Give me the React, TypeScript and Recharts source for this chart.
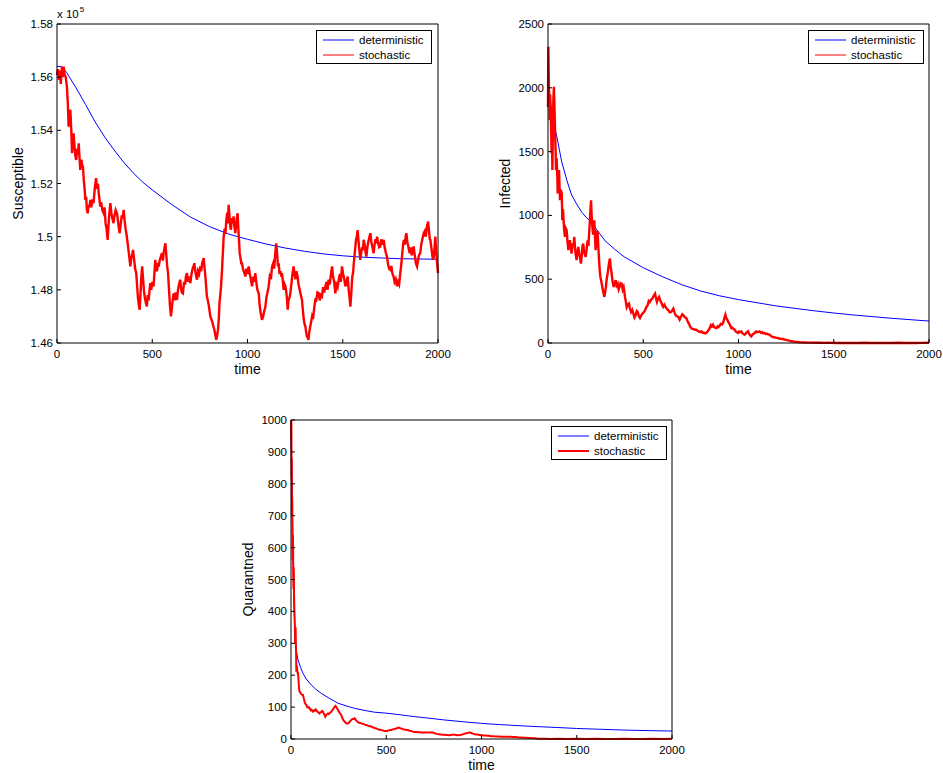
import React from 'react';
import { LineChart, Line, XAxis, YAxis, Legend, Label } from 'recharts';

type Pt = [number, number];

const timeTicks = [0, 500, 1000, 1500, 2000];
const susceptibleTicks = [1.46, 1.48, 1.5, 1.52, 1.54, 1.56, 1.58];
const infectedTicks = [0, 500, 1000, 1500, 2000, 2500];
const quarantinedTicks = [0, 100, 200, 300, 400, 500, 600, 700, 800, 900, 1000];
const seriesNames = ['deterministic', 'stochastic'];

// susceptible values are in units of 10^5
const susceptibleDet: Pt[] = [
  [0, 1.564], [25, 1.564], [50, 1.5618], [100, 1.556], [150, 1.5497], [200, 1.5432], [250, 1.5375],
  [300, 1.5326], [350, 1.528], [400, 1.524], [450, 1.5205], [500, 1.5176], [600, 1.5122],
  [700, 1.5074], [800, 1.5038], [900, 1.501], [1000, 1.499], [1100, 1.4972], [1200, 1.4957],
  [1300, 1.4945], [1400, 1.4935], [1500, 1.4928], [1600, 1.4923], [1700, 1.492], [1800, 1.4917],
  [1900, 1.4916], [2000, 1.4915],
];

const susceptibleSto: Pt[] = [
  [0, 1.5608], [5, 1.563], [10, 1.559], [15, 1.5625], [20, 1.5575], [26, 1.564], [30, 1.56], [35, 1.564],
  [40, 1.561], [46, 1.56], [52, 1.5564], [57, 1.55], [61, 1.5414], [66, 1.546], [70, 1.5477], [75, 1.54],
  [79, 1.5314], [83, 1.536], [87, 1.5389], [93, 1.533], [97, 1.53], [101, 1.5289], [106, 1.533],
  [110, 1.531], [114, 1.5351], [118, 1.53], [122, 1.5251], [128, 1.529], [132, 1.527], [136, 1.5264],
  [141, 1.521], [145, 1.518], [149, 1.5138], [153, 1.515], [157, 1.51], [161, 1.5088], [166, 1.512],
  [170, 1.511], [175, 1.5138], [180, 1.511], [186, 1.514], [192, 1.5126], [198, 1.518], [205, 1.522],
  [210, 1.518], [215, 1.52], [219, 1.5163], [223, 1.514], [227, 1.5113], [232, 1.513], [238, 1.51],
  [245, 1.5088], [250, 1.511], [255, 1.505], [260, 1.503], [266, 1.4988], [270, 1.504], [275, 1.509],
  [280, 1.5126], [285, 1.509], [290, 1.507], [297, 1.5051], [302, 1.508], [308, 1.51], [315, 1.5088],
  [320, 1.506], [325, 1.503], [329, 1.5013], [335, 1.505], [340, 1.508], [345, 1.507], [350, 1.5101],
  [355, 1.506], [360, 1.503], [364, 1.5013], [370, 1.498], [375, 1.495], [380, 1.492], [385, 1.4888],
  [390, 1.492], [395, 1.4935], [399, 1.495], [404, 1.492], [410, 1.488], [416, 1.4863], [420, 1.482],
  [425, 1.477], [430, 1.474], [434, 1.4725], [438, 1.478], [442, 1.484], [447, 1.4888], [451, 1.485],
  [456, 1.48], [461, 1.477], [467, 1.475], [472, 1.4738], [476, 1.478], [481, 1.476], [486, 1.48],
  [490, 1.4825], [495, 1.48], [500, 1.483], [507, 1.4813], [511, 1.486], [516, 1.4913], [520, 1.488],
  [525, 1.487], [530, 1.49], [534, 1.4888], [539, 1.491], [545, 1.4925], [551, 1.4938], [556, 1.491],
  [560, 1.494], [565, 1.496], [569, 1.4975], [574, 1.493], [578, 1.489], [583, 1.4863], [588, 1.48],
  [593, 1.474], [598, 1.47], [603, 1.473], [607, 1.476], [612, 1.4787], [617, 1.476], [622, 1.479],
  [626, 1.477], [630, 1.4762], [635, 1.48], [640, 1.482], [647, 1.4838], [652, 1.48], [656, 1.479],
  [661, 1.4787], [667, 1.483], [672, 1.482], [677, 1.485], [682, 1.4863], [687, 1.483], [693, 1.485],
  [700, 1.4825], [706, 1.486], [712, 1.488], [717, 1.489], [721, 1.49], [726, 1.487], [731, 1.485],
  [735, 1.4838], [740, 1.487], [746, 1.486], [752, 1.4888], [757, 1.487], [762, 1.49], [766, 1.491],
  [770, 1.4919], [775, 1.488], [780, 1.484], [787, 1.4775], [792, 1.476], [797, 1.474], [801, 1.472],
  [805, 1.47], [810, 1.469], [815, 1.468], [820, 1.4665], [826, 1.465], [831, 1.463], [836, 1.4612],
  [840, 1.4625], [845, 1.465], [849, 1.4687], [853, 1.475], [857, 1.478], [861, 1.4813], [866, 1.487],
  [870, 1.493], [875, 1.5], [880, 1.503], [884, 1.501], [889, 1.5063], [894, 1.509], [897, 1.505],
  [901, 1.512], [905, 1.508], [909, 1.504], [913, 1.5026], [918, 1.507], [922, 1.505], [927, 1.5076],
  [931, 1.504], [936, 1.5013], [940, 1.504], [944, 1.507], [948, 1.5088], [952, 1.503], [956, 1.498],
  [959, 1.4938], [963, 1.492], [967, 1.49], [971, 1.49], [976, 1.488], [980, 1.487], [985, 1.486],
  [989, 1.485], [994, 1.488], [1000, 1.486], [1006, 1.4888], [1012, 1.486], [1018, 1.484], [1024, 1.4813],
  [1030, 1.485], [1035, 1.483], [1041, 1.4863], [1046, 1.483], [1052, 1.48], [1059, 1.4787], [1064, 1.474],
  [1070, 1.471], [1076, 1.4687], [1082, 1.47], [1088, 1.472], [1094, 1.4737], [1099, 1.477], [1105, 1.479],
  [1111, 1.4813], [1117, 1.485], [1123, 1.484], [1129, 1.4888], [1135, 1.49], [1140, 1.488], [1146, 1.494],
  [1151, 1.4975], [1156, 1.493], [1160, 1.4888], [1164, 1.49], [1168, 1.486], [1173, 1.487], [1177, 1.485],
  [1181, 1.4863], [1186, 1.483], [1190, 1.48], [1195, 1.482], [1199, 1.4813], [1204, 1.479], [1208, 1.476],
  [1211, 1.4725], [1215, 1.476], [1220, 1.477], [1225, 1.4787], [1230, 1.482], [1236, 1.486], [1242, 1.4888],
  [1247, 1.486], [1252, 1.484], [1257, 1.487], [1263, 1.485], [1268, 1.482], [1274, 1.48], [1280, 1.478],
  [1286, 1.4762], [1291, 1.472], [1295, 1.469], [1300, 1.467], [1304, 1.4662], [1308, 1.464], [1312, 1.4625],
  [1316, 1.462], [1320, 1.4612], [1324, 1.464], [1329, 1.466], [1334, 1.468], [1339, 1.47], [1344, 1.469],
  [1350, 1.473], [1356, 1.4762], [1361, 1.476], [1367, 1.479], [1374, 1.4787], [1379, 1.476], [1385, 1.478],
  [1391, 1.4775], [1397, 1.481], [1403, 1.479], [1409, 1.4813], [1415, 1.483], [1420, 1.48], [1426, 1.4838],
  [1432, 1.482], [1438, 1.486], [1444, 1.4888], [1449, 1.485], [1455, 1.483], [1461, 1.4787], [1467, 1.482],
  [1473, 1.481], [1479, 1.4838], [1485, 1.486], [1490, 1.483], [1496, 1.4888], [1502, 1.486], [1508, 1.484],
  [1514, 1.4813], [1520, 1.483], [1526, 1.485], [1531, 1.48], [1536, 1.477], [1540, 1.4737], [1545, 1.479],
  [1550, 1.485], [1554, 1.4863], [1558, 1.49], [1562, 1.493], [1566, 1.4962], [1570, 1.499], [1574, 1.5],
  [1578, 1.5025], [1582, 1.499], [1587, 1.495], [1592, 1.4913], [1597, 1.494], [1602, 1.496], [1606, 1.495],
  [1610, 1.4988], [1615, 1.497], [1620, 1.494], [1624, 1.4925], [1629, 1.496], [1634, 1.498], [1640, 1.5],
  [1645, 1.5013], [1650, 1.498], [1656, 1.496], [1662, 1.4938], [1667, 1.497], [1672, 1.499], [1677, 1.4975],
  [1680, 1.5], [1685, 1.498], [1691, 1.496], [1697, 1.4963], [1702, 1.499], [1708, 1.497], [1715, 1.4988],
  [1720, 1.496], [1726, 1.494], [1732, 1.4925], [1737, 1.49], [1743, 1.488], [1750, 1.4875], [1755, 1.489],
  [1761, 1.486], [1767, 1.485], [1772, 1.483], [1778, 1.484], [1785, 1.4813], [1790, 1.483], [1796, 1.482],
  [1802, 1.4863], [1808, 1.49], [1814, 1.495], [1820, 1.4988], [1826, 1.497], [1830, 1.5], [1834, 1.5013],
  [1839, 1.498], [1845, 1.496], [1851, 1.4938], [1857, 1.496], [1862, 1.493], [1867, 1.495], [1872, 1.4963],
  [1878, 1.493], [1884, 1.49], [1890, 1.4888], [1895, 1.491], [1900, 1.493], [1907, 1.4938], [1912, 1.497],
  [1918, 1.499], [1925, 1.5013], [1930, 1.502], [1936, 1.5], [1942, 1.504], [1948, 1.5057], [1953, 1.502],
  [1957, 1.499], [1960, 1.4988], [1965, 1.496], [1970, 1.493], [1974, 1.4913], [1978, 1.4925], [1982, 1.496],
  [1986, 1.5], [1990, 1.495], [1995, 1.49], [2000, 1.4863],
];

const infectedDet: Pt[] = [
  [0, 1958], [10, 1890], [20, 1830], [37, 1680], [50, 1590], [72, 1420], [100, 1270], [124, 1160],
  [150, 1090], [177, 1025], [200, 985], [220, 960], [250, 900], [300, 800], [350, 735], [400, 675],
  [500, 590], [600, 520], [700, 458], [800, 408], [900, 370], [1000, 340], [1200, 290], [1400, 252],
  [1500, 235], [1600, 220], [1800, 194], [2000, 172],
];

const infectedSto: Pt[] = [
  [0, 1850], [2, 2322], [4, 2100], [5, 2008], [7, 1900], [9, 1747], [11, 1950], [14, 1851], [16, 1700],
  [19, 1485], [21, 1600], [23, 1355], [26, 1700], [28, 1900], [31, 2008], [34, 1850], [37, 1668], [40, 1500],
  [42, 1355], [45, 1450], [47, 1381], [49, 1300], [51, 1171], [54, 1300], [58, 1355], [60, 1250], [63, 1119],
  [67, 1200], [72, 1171], [74, 1050], [75, 962], [78, 1050], [80, 1015], [84, 900], [89, 832], [93, 900],
  [98, 884], [102, 800], [107, 727], [111, 780], [115, 805], [120, 750], [124, 701], [130, 780], [134, 760],
  [138, 832], [143, 720], [147, 680], [150, 649], [155, 720], [159, 753], [164, 700], [169, 660], [173, 622],
  [178, 700], [181, 760], [185, 779], [189, 720], [194, 690], [198, 675], [203, 740], [208, 805], [212, 760],
  [216, 860], [220, 962], [223, 1050], [226, 1119], [229, 1000], [233, 910], [237, 850], [240, 930],
  [243, 962], [246, 850], [250, 727], [254, 800], [258, 880], [261, 858], [264, 760], [268, 649], [272, 560],
  [275, 518], [280, 480], [285, 439], [290, 400], [296, 361], [300, 400], [304, 439], [308, 500], [313, 544],
  [318, 600], [322, 640], [325, 662], [329, 600], [334, 544], [339, 480], [345, 439], [350, 470], [355, 492],
  [360, 450], [366, 465], [371, 420], [376, 439], [381, 470], [387, 465], [392, 420], [397, 439], [401, 400],
  [404, 361], [408, 330], [413, 282], [418, 300], [425, 309], [430, 270], [436, 243], [442, 260], [448, 230],
  [454, 200], [460, 217], [466, 250], [471, 243], [477, 210], [483, 196], [489, 215], [495, 230], [502, 240],
  [509, 256], [516, 280], [523, 296], [529, 330], [535, 322], [541, 340], [548, 348], [555, 370], [562, 387],
  [567, 350], [572, 322], [577, 345], [583, 361], [590, 330], [597, 309], [601, 290], [605, 282], [611, 300],
  [618, 282], [625, 265], [632, 256], [639, 240], [646, 243], [652, 255], [658, 269], [664, 240], [670, 217],
  [677, 210], [684, 204], [691, 183], [698, 205], [705, 225], [712, 215], [719, 200], [726, 196], [733, 170],
  [740, 150], [746, 130], [752, 117], [758, 110], [765, 108], [772, 104], [779, 104], [785, 95], [792, 90],
  [799, 85], [805, 91], [812, 80], [818, 82], [825, 75], [831, 78], [837, 90], [843, 100], [849, 117],
  [855, 140], [860, 130], [866, 144], [872, 125], [878, 120], [884, 117], [890, 130], [895, 125], [901, 136],
  [907, 150], [913, 145], [919, 157], [925, 190], [931, 222], [935, 200], [940, 185], [945, 170], [950, 155],
  [956, 140], [962, 117], [968, 120], [974, 110], [980, 104], [986, 90], [992, 85], [997, 78], [1003, 90],
  [1009, 85], [1015, 91], [1021, 75], [1027, 70], [1032, 65], [1038, 75], [1044, 85], [1050, 91], [1056, 70],
  [1062, 60], [1067, 52], [1073, 65], [1079, 72], [1085, 78], [1092, 90], [1098, 85], [1105, 88], [1111, 91],
  [1118, 80], [1124, 85], [1130, 75], [1137, 78], [1144, 70], [1150, 72], [1157, 68], [1164, 65], [1170, 55],
  [1176, 50], [1181, 47], [1188, 45], [1194, 42], [1201, 40], [1207, 39], [1214, 35], [1220, 33], [1227, 32],
  [1234, 31], [1240, 28], [1247, 25], [1254, 22], [1260, 21], [1267, 18], [1273, 15], [1280, 14], [1286, 13],
  [1293, 11], [1300, 9], [1306, 8], [1312, 8], [1320, 6], [1330, 5], [1339, 5], [1350, 4], [1365, 3],
  [1380, 3], [1391, 3], [1410, 2], [1430, 2], [1450, 1], [1470, 2], [1490, 1], [1510, 0], [1540, 1],
  [1570, 0], [1600, 1], [1630, 0], [1660, 2], [1690, 0], [1720, 1], [1750, 0], [1780, 1], [1810, 0],
  [1840, 2], [1870, 0], [1900, 1], [1930, 0], [1960, 1], [2000, 2],
];

const quarantinedDet: Pt[] = [
  [0, 960], [2, 900], [5, 860], [7, 730], [10, 600], [13, 490], [16, 410], [20, 345], [23, 305], [30, 270],
  [37, 248], [50, 225], [63, 206], [80, 188], [107, 169], [130, 156], [159, 143], [200, 128], [247, 112],
  [300, 102], [334, 96], [400, 88], [439, 84], [500, 81], [572, 76], [650, 70], [729, 65], [800, 60],
  [904, 54], [1000, 49], [1100, 45], [1250, 40], [1400, 36], [1500, 33], [1600, 31], [1750, 28], [1900, 26],
  [2000, 25],
];

const quarantinedSto: Pt[] = [
  [0, 1000], [1, 940], [2, 995], [3, 820], [4, 880], [5, 702], [6, 760], [7, 730], [8, 620], [9, 560],
  [10, 640], [11, 600], [12, 500], [13, 470], [14, 540], [15, 520], [16, 450], [18, 400], [20, 360], [21, 330],
  [22, 300], [24, 350], [26, 290], [27, 260], [28, 211], [30, 230], [32, 220], [33, 215], [35, 206], [37, 206],
  [40, 180], [42, 160], [45, 148], [50, 145], [55, 140], [60, 138], [63, 138], [68, 125], [72, 115], [76, 110],
  [80, 107], [85, 100], [90, 98], [94, 100], [98, 96], [103, 90], [108, 92], [112, 88], [115, 86], [120, 90],
  [125, 88], [130, 93], [133, 91], [138, 86], [142, 84], [146, 82], [150, 80], [155, 84], [160, 85], [164, 88],
  [168, 86], [172, 80], [176, 76], [180, 70], [184, 74], [188, 78], [194, 80], [199, 78], [204, 82], [208, 84],
  [212, 86], [216, 90], [220, 92], [225, 98], [229, 101], [233, 104], [238, 100], [243, 95], [247, 91],
  [252, 85], [258, 80], [264, 75], [270, 65], [276, 58], [282, 54], [288, 50], [294, 48], [299, 49], [305, 52],
  [311, 56], [317, 60], [322, 63], [328, 62], [334, 65], [340, 60], [346, 56], [352, 52], [358, 51], [364, 50],
  [369, 49], [375, 48], [382, 46], [388, 45], [395, 44], [402, 42], [409, 41], [415, 40], [422, 39], [428, 37],
  [435, 35], [442, 34], [448, 33], [455, 31], [461, 30], [468, 29], [474, 28], [481, 27], [487, 26], [494, 25],
  [500, 25], [507, 26], [514, 27], [521, 28], [527, 28], [533, 30], [540, 31], [547, 32], [553, 33], [560, 35],
  [566, 36], [572, 34], [578, 33], [583, 32], [588, 31], [595, 30], [602, 29], [608, 28], [614, 28], [622, 26],
  [630, 25], [636, 24], [642, 23], [650, 22], [660, 22], [670, 21], [680, 21], [690, 20], [700, 21], [710, 20],
  [720, 20], [730, 20], [740, 21], [747, 20], [755, 18], [765, 16], [775, 15], [785, 14], [795, 13], [805, 13],
  [817, 12.5], [830, 12], [845, 13], [860, 13], [875, 12], [887, 12.5], [898, 14], [908, 16], [918, 18],
  [928, 19], [934, 20], [940, 20], [946, 19], [955, 17], [965, 15], [975, 14], [985, 13], [992, 12.5],
  [1000, 12], [1010, 11], [1020, 11], [1030, 10], [1040, 10], [1050, 9], [1062, 9], [1075, 8], [1090, 8],
  [1105, 7], [1120, 7], [1135, 7], [1150, 7], [1165, 6], [1180, 6], [1195, 5], [1210, 5], [1225, 4],
  [1237, 4], [1250, 3], [1265, 2], [1280, 2], [1295, 1], [1307, 1], [1330, 1], [1360, 0], [1400, 1],
  [1450, 0], [1500, 1], [1550, 0], [1600, 1], [1650, 0], [1700, 0], [1750, 1], [1800, 0], [1850, 0],
  [1900, 1], [1950, 0], [2000, 1],
];

const toRows = (pts: Pt[]) => pts.map(([t, v]) => ({ t, v }));

const FONT = '"Liberation Sans", Arial, Helvetica, sans-serif';
const BLUE = '#0000ff';
const RED = '#ff0000';
const seriesColors = [BLUE, RED];

// MATLAB style legend box: framed, line sample then label
function MatlabLegend({ swatchWidths }: { swatchWidths: number[] }) {
  return (
    <svg width={116} height={34} style={{ display: 'block', fontFamily: FONT }}>
      <rect x={0.5} y={0.5} width={115} height={33} fill="#fff" stroke="#000" strokeWidth={1} />
      {seriesNames.map((name, i) => {
        const cy = 10 + i * 15;
        return (
          <g key={name}>
            <line x1={7} x2={38} y1={cy} y2={cy} stroke={seriesColors[i]} strokeWidth={swatchWidths[i]} />
            <text x={43} y={cy + 4} fontSize={11.5} fill="#000">
              {name}
            </text>
          </g>
        );
      })}
    </svg>
  );
}

interface PanelProps {
  left: number;
  top: number;
  width: number;
  height: number;
  marginRight: number;
  marginBottom: number;
  yLabel: string;
  yLabelX: number;
  yDomain: [number, number];
  yTicks: number[];
  yFormat?: (v: number) => string;
  det: Pt[];
  sto: Pt[];
  redWidth: number;
  legendSwatch: number[];
  legendLeft: number;
  children?: React.ReactNode;
}

const blank = () => '';

function Panel(p: PanelProps) {
  const tickStyle = { fontSize: 11.5, fill: '#000', fontFamily: FONT };
  return (
    <div style={{ position: 'absolute', left: p.left, top: p.top, width: p.width, height: p.height, fontFamily: FONT }}>
      <LineChart
        width={p.width}
        height={p.height}
        margin={{ top: 23, right: p.marginRight - 1, bottom: p.marginBottom, left: 0 }}
      >
        <XAxis
          xAxisId="b"
          dataKey="t"
          type="number"
          domain={[0, 2000]}
          ticks={timeTicks}
          height={30}
          stroke="#000"
          tickSize={-4}
          tickMargin={11}
          tick={tickStyle}
          interval={0}
        >
          <Label value="time" position="insideBottom" offset={-1} style={{ fontSize: 14, fill: '#000' }} />
        </XAxis>
        <XAxis
          xAxisId="t"
          orientation="top"
          dataKey="t"
          type="number"
          domain={[0, 2000]}
          ticks={timeTicks}
          height={1}
          stroke="#000"
          tickSize={-4}
          tickFormatter={blank}
          interval={0}
        />
        <YAxis
          yAxisId="l"
          type="number"
          domain={p.yDomain}
          ticks={p.yTicks}
          width={57}
          stroke="#000"
          tickSize={-4}
          tickMargin={8}
          tick={tickStyle}
          tickFormatter={p.yFormat}
          interval={0}
        >
          <Label
            value={p.yLabel}
            angle={-90}
            position="insideLeft"
            offset={p.yLabelX}
            style={{ fontSize: 14, fill: '#000', textAnchor: 'middle' }}
          />
        </YAxis>
        <YAxis
          yAxisId="r"
          orientation="right"
          type="number"
          domain={p.yDomain}
          ticks={p.yTicks}
          width={1}
          stroke="#000"
          tickSize={-4}
          tickFormatter={blank}
          interval={0}
        />
        <Line
          xAxisId="b"
          yAxisId="l"
          data={toRows(p.det)}
          dataKey="v"
          name={seriesNames[0]}
          stroke={BLUE}
          strokeWidth={1}
          dot={false}
          type="linear"
          isAnimationActive={false}
        />
        <Line
          xAxisId="b"
          yAxisId="l"
          data={toRows(p.sto)}
          dataKey="v"
          name={seriesNames[1]}
          stroke={RED}
          strokeWidth={p.redWidth}
          strokeLinejoin="miter"
          dot={false}
          type="linear"
          isAnimationActive={false}
        />
        <Legend
          layout="vertical"
          align="center"
          verticalAlign="middle"
          wrapperStyle={{ left: p.legendLeft, top: 30, width: 116, height: 34 }}
          content={() => <MatlabLegend swatchWidths={p.legendSwatch} />}
        />
      </LineChart>
      {p.children}
    </div>
  );
}

const fmtS = (v: number) => String(Number(v.toFixed(2)));

export default function App() {
  return (
    <div style={{ position: 'absolute', left: 0, top: 0, width: 943, height: 773, overflow: 'hidden', background: '#fff' }}>
      <style>{'body{overflow:hidden}'}</style>
      <Panel
        left={0}
        top={0}
        width={470}
        height={390}
        marginRight={32}
        marginBottom={17}
        yLabel="Susceptible"
        yLabelX={18}
        yDomain={[1.46, 1.58]}
        yTicks={susceptibleTicks}
        yFormat={fmtS}
        det={susceptibleDet}
        sto={susceptibleSto}
        redWidth={2.4}
        legendSwatch={[1, 1]}
        legendLeft={316}
      >
        <div style={{ position: 'absolute', left: 57, top: 9, fontSize: 11.5, lineHeight: '11.5px', color: '#000' }}>
          x 10<span style={{ fontSize: 8, position: 'relative', top: -6, marginLeft: 1 }}>5</span>
        </div>
      </Panel>
      <Panel
        left={491}
        top={0}
        width={452}
        height={390}
        marginRight={14}
        marginBottom={17}
        yLabel="Infected"
        yLabelX={14}
        yDomain={[0, 2500]}
        yTicks={infectedTicks}
        det={infectedDet}
        sto={infectedSto}
        redWidth={2.4}
        legendSwatch={[1, 1]}
        legendLeft={317}
      />
      <Panel
        left={234}
        top={396}
        width={470}
        height={377}
        marginRight={32}
        marginBottom={4}
        yLabel="Quarantned"
        yLabelX={14}
        yDomain={[0, 1000]}
        yTicks={quarantinedTicks}
        det={quarantinedDet}
        sto={quarantinedSto}
        redWidth={2}
        legendSwatch={[1, 2]}
        legendLeft={317}
      />
    </div>
  );
}
